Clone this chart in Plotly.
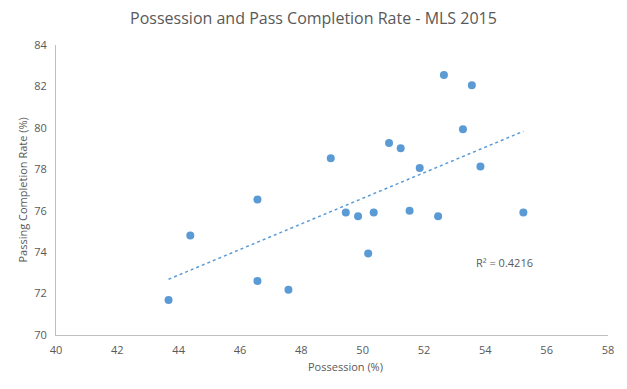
import numpy as np
import plotly.graph_objects as go

possession = [43.67, 44.38, 46.57, 46.57, 47.58, 48.96, 49.45, 49.85, 50.36, 50.18,
              50.86, 51.24, 51.53, 51.86, 52.46, 52.65, 53.27, 53.56, 53.84, 55.24]
pass_rate = [71.69, 74.80, 76.54, 72.61, 72.18, 78.53, 75.91, 75.73, 75.91, 73.94,
             79.27, 79.01, 76.00, 78.06, 75.73, 82.55, 79.93, 82.06, 78.14, 75.91]

x_ticks = [40, 42, 44, 46, 48, 50, 52, 54, 56, 58]
y_ticks = [70, 72, 74, 76, 78, 80, 82, 84]
r2_label = "R² = 0.4216"

blue = "#5B9BD5"
grey_text = "#595959"
font_family = "Open Sans, Noto Sans, sans-serif"

slope, intercept = np.polyfit(possession, pass_rate, 1)
tx = [min(possession), max(possession)]
ty = [slope * v + intercept for v in tx]

fig = go.Figure()
fig.add_trace(go.Scatter(x=tx, y=ty, mode="lines",
                         line=dict(color=blue, width=1.5, dash="dot"),
                         hoverinfo="skip", showlegend=False))
fig.add_trace(go.Scatter(x=possession, y=pass_rate, mode="markers",
                         marker=dict(color=blue, size=8),
                         showlegend=False))

fig.update_layout(
    width=627, height=389,
    margin=dict(l=56, r=19, t=45, b=54),
    paper_bgcolor="white", plot_bgcolor="white",
    font=dict(family=font_family, color=grey_text, size=11),
    title=dict(text="Possession and Pass Completion Rate - MLS 2015",
               x=0.5, xanchor="center", y=0.953, yanchor="middle",
               font=dict(size=16, color=grey_text, family=font_family)),
    xaxis=dict(range=[40, 58], tickvals=x_ticks, ticktext=[str(v) for v in x_ticks],
               showgrid=False, zeroline=False, showline=True, linecolor="#BFBFBF",
               linewidth=1, ticks="", ticklabelstandoff=5,
               tickfont=dict(size=11, color=grey_text)),
    yaxis=dict(range=[70, 84], tickvals=y_ticks, ticktext=[str(v) for v in y_ticks],
               showgrid=False, zeroline=False, showline=True, linecolor="#BFBFBF",
               linewidth=1, ticks="", ticklabelstandoff=6,
               tickfont=dict(size=11, color=grey_text)),
    annotations=[
        dict(text="Possession (%)", xref="paper", yref="paper", x=0.5236, y=-0.108,
             xanchor="center", yanchor="middle", showarrow=False,
             font=dict(size=11, color=grey_text)),
        dict(text="Passing Completion Rate (%)", xref="paper", yref="paper",
             x=-0.0625, y=0.5, xanchor="center", yanchor="middle", textangle=-90,
             showarrow=False, font=dict(size=11, color=grey_text)),
        dict(text=r2_label, xref="x", yref="y", x=54.62, y=73.5,
             xanchor="center", yanchor="middle", showarrow=False,
             font=dict(size=11, color=grey_text)),
    ],
)

fig.write_html("out.html",
               config={"displayModeBar": False},
               post_script="document.body.style.margin='0';document.body.style.overflow='hidden';")
